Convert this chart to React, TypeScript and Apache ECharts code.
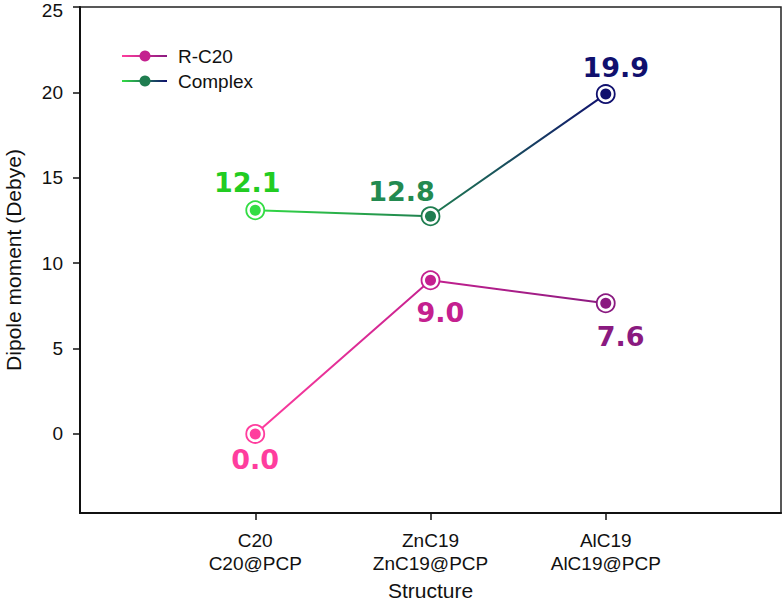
import React, { useEffect, useRef } from "react";
import * as echarts from "echarts";

const categories = ["C20\nC20@PCP", "ZnC19\nZnC19@PCP", "AlC19\nAlC19@PCP"];
const seriesNames = ["R-C20", "Complex"];
const rc20Values = [0.0, 9.0, 7.65];
const complexValues = [13.1, 12.75, 19.9];
const rc20Labels = ["0.0", "9.0", "7.6"];
const complexLabels = ["12.1", "12.8", "19.9"];
const yTicks = [0, 5, 10, 15, 20, 25];
const xTicks = [1, 2, 3];

// styles
const rc20Colors = ["#ff3d9e", "#c4208f", "#8a1a80"];
const complexColors = ["#33dd44", "#1f7d50", "#10106e"];
const complexLabelColors = ["#22cc22", "#238a50", "#10106e"];
const rc20Offsets = [[0, 26], [10, 32], [15, 33]];
const complexOffsets = [[-8, -28], [-29, -25], [10, -27]];

const FONT = "Liberation Sans, Arial, sans-serif";
const LABEL_FONT = "DejaVu Sans, Verdana, sans-serif";

function grad(colors: string[]) {
  return new echarts.graphic.LinearGradient(0, 0, 1, 0, [
    { offset: 0, color: colors[0] },
    { offset: 0.5, color: colors[1] },
    { offset: 1, color: colors[2] },
  ]);
}

function makeSeries(name: string, values: number[], labels: string[], colors: string[], labelColors: string[], offsets: number[][]) {
  const pts = values.map((v, i) => [xTicks[i], v]);
  return [
    {
      name,
      type: "line",
      data: pts,
      showSymbol: false,
      lineStyle: { width: 2, color: grad(colors) },
      z: 2,
    },
    {
      name: name + "-ring",
      type: "scatter",
      data: pts.map((p, i) => ({
        value: p,
        itemStyle: { color: "#fff", borderColor: colors[i], borderWidth: 1.8, opacity: 1 },
      })),
      symbol: "circle",
      symbolSize: 18,
      z: 3,
    },
    {
      name: name + "-dot",
      type: "scatter",
      data: pts.map((p, i) => ({
        value: p,
        itemStyle: { color: colors[i], opacity: 1 },
        label: {
          show: true,
          formatter: labels[i],
          position: "inside",
          offset: offsets[i],
          color: labelColors[i],
          textBorderWidth: 0,
          textBorderColor: "transparent",
          opacity: 1,
          fontSize: 27,
          fontWeight: "bold",
          fontFamily: LABEL_FONT,
        },
      })),
      symbol: "circle",
      symbolSize: 11,
      z: 4,
    },
  ];
}

export default function App() {
  const ref = useRef<HTMLDivElement>(null);
  useEffect(() => {
    if (!ref.current) return;
    const chart = echarts.init(ref.current, undefined, { renderer: "svg" });
    const legendItem = (y: number, colors: string[], text: string) => [
      {
        type: "line",
        shape: { x1: 122, y1: y, x2: 167, y2: y },
        style: {
          stroke: new echarts.graphic.LinearGradient(
            122,
            0,
            167,
            0,
            [
              { offset: 0, color: colors[0] },
              { offset: 1, color: colors[2] },
            ],
            true
          ),
          lineWidth: 2,
        },
        z: 10,
      },
      {
        type: "circle",
        shape: { cx: 145, cy: y, r: 5.5 },
        style: { fill: colors[1] },
        z: 11,
      },
      {
        type: "text",
        x: 178,
        y,
        style: { text, fontSize: 19, fontFamily: FONT, fill: "#111", verticalAlign: "middle" },
        z: 11,
      },
    ];
    const lastTick = yTicks[yTicks.length - 1];
    chart.setOption({
      animation: false,
      backgroundColor: "#fff",
      grid: {
        left: 80,
        right: 2,
        top: 7,
        bottom: 89,
        show: true,
        borderColor: "#222",
        borderWidth: 1.5,
        containLabel: false,
        outerBoundsMode: "none",
      },
      xAxis: {
        type: "value",
        min: 0,
        max: 4,
        splitLine: { show: false },
        axisLine: { show: true, onZero: false, lineStyle: { color: "#111", width: 2 } },
        axisTick: { show: true, customValues: xTicks, length: 7, lineStyle: { color: "#111", width: 1.5 } },
        axisLabel: {
          customValues: xTicks,
          formatter: (v: number) => categories[Math.round(v) - 1] ?? "",
          fontSize: 19,
          lineHeight: 23,
          margin: 16,
          color: "#111",
          fontFamily: FONT,
        },
        name: "Structure",
        nameLocation: "middle",
        nameGap: 67,
        nameTextStyle: { fontSize: 21, lineHeight: 21, fontFamily: FONT, color: "#111" },
      },
      yAxis: {
        type: "value",
        min: -4.63,
        max: 25,
        splitLine: { show: false },
        axisLine: { show: true, onZero: false, lineStyle: { color: "#111", width: 2 } },
        axisTick: { show: true, customValues: yTicks, length: 7, lineStyle: { color: "#111", width: 1.5 } },
        axisLabel: {
          customValues: yTicks,
          formatter: (v: number) => (v === lastTick ? "{top|" + v + "}" : String(v)),
          fontSize: 19,
          margin: 17,
          color: "#111",
          fontFamily: FONT,
          rich: {
            top: { fontSize: 19, fontFamily: FONT, color: "#111", padding: [6, 0, 0, 0], lineHeight: 19 },
          },
        },
        name: "Dipole moment (Debye)",
        nameLocation: "middle",
        nameGap: 56,
        nameTextStyle: { fontSize: 21, fontFamily: FONT, color: "#111" },
      },
      graphic: [
        ...legendItem(56, rc20Colors, seriesNames[0]),
        ...legendItem(81, complexColors, seriesNames[1]),
      ],
      series: [
        ...makeSeries(seriesNames[0], rc20Values, rc20Labels, rc20Colors, rc20Colors, rc20Offsets),
        ...makeSeries(seriesNames[1], complexValues, complexLabels, complexColors, complexLabelColors, complexOffsets),
      ],
    });
    return () => chart.dispose();
  }, []);
  return <div ref={ref} style={{ width: 783, height: 602, position: "absolute", left: 0, top: 0 }} />;
}
